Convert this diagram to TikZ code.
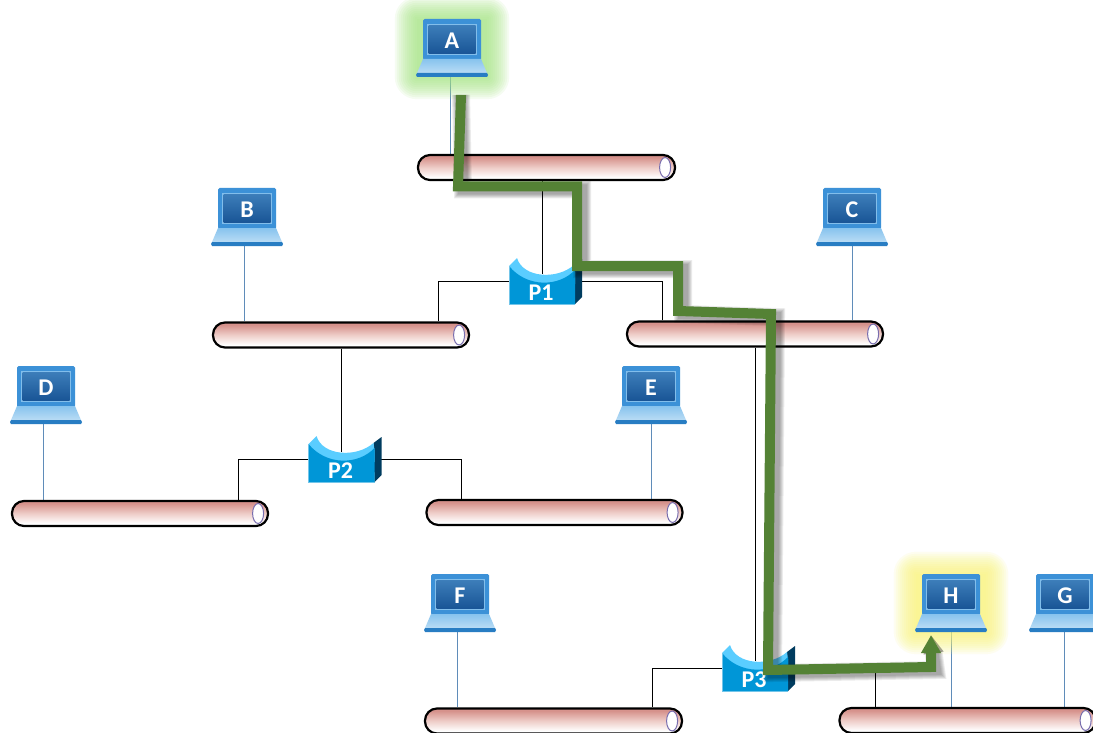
\documentclass[tikz,border=0pt]{standalone}
\usepackage{fontspec}
\setmainfont{Carlito}
\usetikzlibrary{arrows.meta}
\definecolor{pipetop}{RGB}{214,146,140}
\definecolor{pipemid}{RGB}{238,205,200}
\definecolor{holeedge}{RGB}{120,110,175}
\definecolor{lapedge}{RGB}{60,145,215}
\definecolor{lapframe}{RGB}{130,190,235}
\definecolor{scrtop}{RGB}{60,125,185}
\definecolor{scrbot}{RGB}{25,85,150}
\definecolor{basetop}{RGB}{135,195,238}
\definecolor{basebot}{RGB}{185,220,245}
\definecolor{basestrip}{RGB}{40,125,195}
\definecolor{linkblue}{RGB}{95,140,185}
\definecolor{rbody}{RGB}{0,150,215}
\definecolor{rlight}{RGB}{90,205,255}
\definecolor{rdark}{RGB}{0,60,95}
\definecolor{routegreen}{RGB}{84,130,53}
\definecolor{glowgreen}{RGB}{165,230,130}
\definecolor{glowyellow}{RGB}{250,245,120}
\pgfdeclareverticalshading{pipeshade}{100bp}{color(0bp)=(white); color(30bp)=(white); color(50bp)=(pipemid); color(70bp)=(pipetop); color(100bp)=(pipetop)}
\pgfdeclarelayer{back}
\pgfdeclarelayer{glow}
\pgfsetlayers{back,glow,main}
\tikzset{
  pipebox/.style={draw=black,line width=2.2pt,rounded corners=12pt,minimum width=#1,minimum height=25pt,inner sep=0pt,shading=pipeshade},
  hole/.style={draw=holeedge,fill=white,line width=1pt},
  hostlink/.style={draw=linkblue,line width=0.9pt},
  netlink/.style={draw=black,line width=0.9pt},
  tag/.style={text=white,font=\fontsize{24}{24}\selectfont\bfseries,inner sep=0pt},
  ghost/.style={inner sep=0pt,minimum width=#1},
  routeline/.style={draw=routegreen,line width=10pt,line join=miter,-{Triangle[length=18pt,width=19pt]}},
  routeshadow/.style={draw=black,line join=miter,opacity=0.08,-{Triangle[length=18pt,width=19pt]}},
}
% name, cx, top, label
\newcommand{\laptop}[4]{%
  \begin{scope}[shift={(#2,#3)}]
    \fill[lapedge,rounded corners=1.5pt] (-29,0) rectangle (29,41);
    \fill[lapframe] (-25,5) rectangle (25,36);
    \shade[top color=scrtop,bottom color=scrbot] (-23.5,6.5) rectangle (23.5,34.5);
    \shade[top color=basetop,bottom color=basebot] (-29,40) -- (29,40) -- (35,54) -- (-35,54) -- cycle;
    \fill[basestrip] (-35,54) -- (35,54) -- (36,56) -- (35,58) -- (-35,58) -- (-36,56) -- cycle;
    \node[ghost=70pt,minimum height=58pt] (#1) at (0,29) {};
    \node[tag] (#1t) at (0,22) {#4};
  \end{scope}}
% name, x0, y0, label
\newcommand{\router}[4]{%
  \begin{scope}[shift={(#2,#3)}]
    \fill[rdark] (65,7) -- (73,1) -- (73,39) -- (66,46) -- cycle;
    \fill[rlight] (0,8) -- (8,0) .. controls (14,20) and (48,22) .. (65,7) -- (66,14) -- (66,26) -- (0,26) -- cycle;
    \fill[rbody] (0,8) .. controls (18,30) and (50,29) .. (66,12) -- (66,46) -- (0,46) -- cycle;
    \draw[rbody!55!white,line width=0.6pt] (0,8) -- (0,46) -- (66,46);
    \node[ghost=66pt,minimum height=46pt] (#1) at (33,23) {};
    \node[tag] (#1t) at (32,35) {#4};
  \end{scope}}
% name, cx, cy, width
\newcommand{\pipe}[4]{%
  \node[pipebox=#4pt] (#1) at (#2,#3) {};
  \draw[hole] ([xshift=-11pt]#1.east) ellipse (5.5pt and 10pt);}
% laptop name, x offset, pipe name
\newcommand{\hostlink}[3]{%
  \draw[hostlink] ([xshift=#2pt]#1.south) -- ([xshift=#2pt]#1.south |- #3.north);}
\newcommand{\halo}[2]{%
  \foreach \p in {0,2,...,22}{
    \fill[#2,opacity=0.11,rounded corners=\p pt]
      ([xshift=-\p pt,yshift=\p pt]#1.north west) rectangle ([xshift=\p pt,yshift=-\p pt]#1.south east);
  }}
\begin{document}
\begin{tikzpicture}[x=1pt,y=-1pt]
\useasboundingbox (0,0) rectangle (1093,733);
\clip (0,0) rectangle (1093,733);
\pipe{pipeA}{546.5}{167.5}{257}
\pipe{pipeB}{341}{335}{256}
\pipe{pipeC}{755}{334}{256}
\pipe{pipeD}{140}{513.5}{256}
\pipe{pipeE}{554.5}{512.5}{256}
\pipe{pipeF}{553.5}{721}{257}
\pipe{pipeH}{967.5}{720.5}{256}
\laptop{lapA}{452}{19}{A}
\laptop{lapB}{247}{188}{B}
\laptop{lapC}{852}{188}{C}
\laptop{lapD}{46}{366}{D}
\laptop{lapE}{651}{366}{E}
\laptop{lapF}{460}{574}{F}
\laptop{lapH}{951}{574}{H}
\laptop{lapG}{1065}{574}{G}
\router{rA}{509}{258}{P1}
\router{rB}{308.5}{436}{P2}
\router{rC}{722}{645}{P3}
\begin{pgfonlayer}{back}
  \fill[white] (0,0) rectangle (1093,733);
  \hostlink{lapA}{-2}{pipeA}
  \hostlink{lapB}{-3}{pipeB}
  \hostlink{lapC}{0}{pipeC}
  \hostlink{lapD}{-3}{pipeD}
  \hostlink{lapE}{0}{pipeE}
  \hostlink{lapF}{-3}{pipeF}
  \hostlink{lapH}{0}{pipeH}
  \hostlink{lapG}{-1}{pipeH}
  \draw[netlink] (rA.north |- pipeA.south) -- ([yshift=-16pt]rA.north);
  \draw[netlink] (rA.west) -| ([xshift=97pt]pipeB.north);
  \draw[netlink] (rA.east) -| ([xshift=-93pt]pipeC.north);
  \draw[netlink] (pipeB.south) -- ([yshift=-16pt]pipeB.south |- rB.north);
  \draw[netlink] (rB.west) -| ([xshift=98pt]pipeD.north);
  \draw[netlink] (rB.east) -| ([xshift=-93pt]pipeE.north);
  \draw[netlink] (rC.north |- pipeC.south) -- ([yshift=-16pt]rC.north);
  \draw[netlink] (rC.west) -| ([xshift=99pt]pipeF.north);
  \draw[netlink] (rC.east) -| ([xshift=-92pt]pipeH.north);
\end{pgfonlayer}
\begin{pgfonlayer}{glow}
  \halo{lapA}{glowgreen}
  \halo{lapH}{glowyellow}
\end{pgfonlayer}
\coordinate (routeStart) at (461,95);
\coordinate (routeEnd) at ([xshift=-20pt,yshift=-3pt]lapH.south);
% soft shadow of the route
\foreach \w in {10,12,14,16,18}{
  \draw[routeshadow,line width=\w pt,shift={(5,3)}] (routeStart) -- (458,186.5) -- (577,186.5) -- (577,266) -- (678,266) -- (678,311) -- (771,314) -- (768,670) -- (931,667) -- (routeEnd);
}
\draw[routeline] (routeStart) -- (458,186.5) -- (577,186.5) -- (577,266) -- (678,266) -- (678,311) -- (771,314) -- (768,670) -- (931,667) -- (routeEnd);
\end{tikzpicture}
\end{document}
